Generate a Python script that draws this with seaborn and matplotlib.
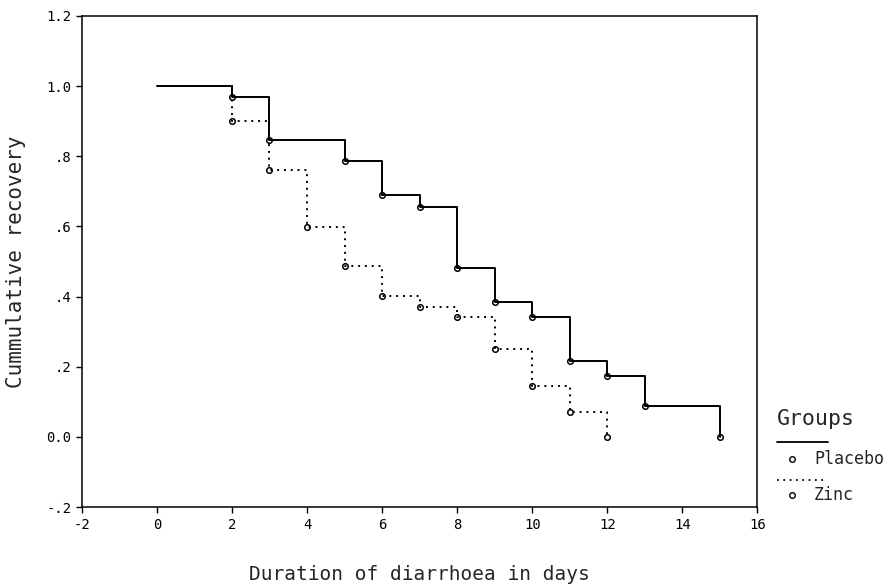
import numpy as np
import pandas as pd
import matplotlib
matplotlib.use("Agg")
import matplotlib.pyplot as plt
from matplotlib.lines import Line2D
import seaborn as sns

# Kaplan-Meier style values
days_placebo = [0, 2, 3, 5, 6, 7, 8, 9, 10, 11, 12, 13, 15]
recov_placebo = [1.0, 0.97, 0.846, 0.786, 0.69, 0.655, 0.482, 0.386, 0.343, 0.216, 0.173, 0.088, 0.0]
days_zinc = [0, 2, 3, 4, 5, 6, 7, 8, 9, 10, 11, 12]
recov_zinc = [1.0, 0.90, 0.76, 0.597, 0.486, 0.403, 0.371, 0.343, 0.251, 0.146, 0.071, 0.0]

x_ticks = [-2, 0, 2, 4, 6, 8, 10, 12, 14, 16]
y_ticks = [-0.2, 0.0, 0.2, 0.4, 0.6, 0.8, 1.0, 1.2]
y_tick_labels = ["-.2", "0.0", ".2", ".4", ".6", ".8", "1.0", "1.2"]

df_p = pd.DataFrame({"day": days_placebo, "rec": recov_placebo})
df_z = pd.DataFrame({"day": days_zinc, "rec": recov_zinc})

sns.set_style("ticks")
plt.rcParams["font.family"] = ["DejaVu Sans Mono", "DejaVu Sans"]

fig = plt.figure(figsize=(8.89, 5.87), dpi=100)
ax = fig.add_axes([0.092, 0.136, 0.760, 0.837])

mk = dict(marker="o", markersize=4, fillstyle="none", markeredgewidth=1.1,
          markeredgecolor="black", markevery=slice(1, None))
sns.lineplot(data=df_p, x="day", y="rec", ax=ax, color="black", lw=1.4,
             drawstyle="steps-post", **mk)
sns.lineplot(data=df_z, x="day", y="rec", ax=ax, color="black", lw=1.4,
             linestyle=(0, (1, 2.5)), drawstyle="steps-post", **mk)

ax.set_xlim(-2, 16)
ax.set_ylim(-0.2, 1.2)
ax.set_xticks(x_ticks)
ax.set_xticklabels([str(t) for t in x_ticks], fontsize=10)
ax.set_yticks(y_ticks)
ax.set_yticklabels(y_tick_labels, fontsize=10)
ax.tick_params(direction="out", length=4, width=1, colors="black")
for s in ax.spines.values():
    s.set_visible(True)
    s.set_color("black")
    s.set_linewidth(1.1)

ax.set_xlabel("Duration of diarrhoea in days", fontsize=14, labelpad=24)
ax.set_ylabel("Cummulative recovery", fontsize=15)
ax.yaxis.set_label_coords(-0.083, 0.5)

# legend drawn at the right, outside the axes
fig.text(777 / 889, 1 - 425 / 587, "Groups", fontsize=15.5, ha="left", va="baseline")
fig.add_artist(Line2D([777 / 889, 828 / 889], [1 - 442 / 587] * 2, color="black", lw=1.3))
fig.add_artist(Line2D([792 / 889], [1 - 459 / 587], marker="o", markersize=4,
                      fillstyle="none", color="black", lw=0))
fig.text(814 / 889, 1 - 459 / 587, "Placebo", fontsize=12, ha="left", va="center")
fig.add_artist(Line2D([777 / 889, 823 / 889], [1 - 480 / 587] * 2, color="black",
                      lw=1.3, linestyle=(0, (1, 2.5))))
fig.add_artist(Line2D([792 / 889], [1 - 495 / 587], marker="o", markersize=4,
                      fillstyle="none", color="black", lw=0))
fig.text(814 / 889, 1 - 495 / 587, "Zinc", fontsize=12, ha="left", va="center")

fig.savefig("out.png", dpi=100)
